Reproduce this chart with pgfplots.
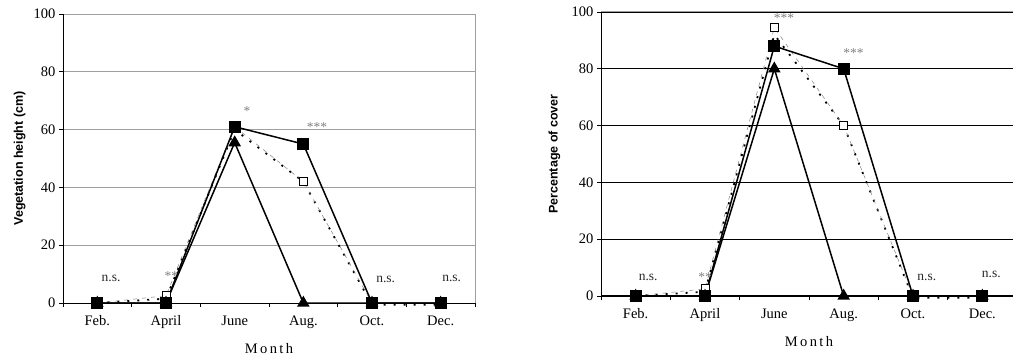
\documentclass[border=0pt]{standalone}
\usepackage{fontspec}
\setmainfont{Liberation Serif}
\newfontfamily\lblfont{Liberation Sans}
\usepackage{pgfplots}
\pgfplotsset{compat=1.18}
\tikzset{
 ann/.style={font=\fontsize{13.5}{14}\selectfont, text=black!85},
 star/.style={font=\fontsize{13.5}{14}\selectfont, text=gray},
}
\pgfplotsset{
 mychart/.style={
  scale only axis,
  clip=false,
  xmin=-0.5, xmax=5.5, ymin=0, ymax=100,
  axis x line*=bottom, axis y line*=left,
  axis line style={line width=1pt, -},
  xtick={-0.5,0.5,...,5.5}, xticklabels={},
  extra x ticks={0,1,2,3,4,5},
  extra x tick labels={Feb.,April,June,Aug.,Oct.,Dec.},
  extra x tick style={major tick length=0pt, grid=none, tick label style={yshift=-9pt}},
  ytick={0,20,...,100},
  tick align=outside, major tick length=4pt,
  tick style={black, line width=0.7pt},
  ymajorgrids,
  tick label style={font=\fontsize{14.5}{16}\selectfont},
  /pgf/number format/assume math mode=true,
  xlabel={M\,o\,n\,t\,h},
  x label style={at={(axis description cs:0.5,0)}, yshift=-46pt, anchor=center, font=\fontsize{14.5}{16}\selectfont},
  y label style={anchor=center, font=\lblfont\bfseries\fontsize{12.5}{14}\selectfont},
 },
 sqfill/.style={black, line width=1.5pt, mark=square*, mark size=5.2pt, mark options={solid, fill=black}},
 sqopen/.style={gray, line width=0.5pt, dash pattern=on 4pt off 5pt, mark=square*, mark size=4pt, mark options={solid, fill=white, draw=black, line width=1pt}},
 tri/.style={black, line width=1.5pt, mark=triangle*, mark size=5.8pt, mark options={solid, fill=black}},
 dotsl/.style={black, line width=1.8pt, dash pattern=on 2pt off 8pt, mark=none},
}
\begin{document}
\begin{tikzpicture}
\useasboundingbox (0,0) rectangle (1013pt,362pt);
% left chart
\begin{axis}[mychart, at={(63pt,59pt)}, anchor=south west, width=412pt, height=289pt,
  major grid style={gray!75, line width=0.9pt},
  y label style={at={(axis description cs:-0.105,0.5)}},
  ylabel={Vegetation height (cm)}]
\addplot[dotsl] coordinates {(0,0) (1,1.5) (2,60) (3,42) (4,-0.6) (5,-0.6)};
\addplot[sqopen] coordinates {(0,0) (1,2.5) (2,61) (3,42) (4,0) (5,0)};
\addplot[tri] coordinates {(0,0) (1,0) (2,55.5) (3,0) (4,0) (5,0)};
\addplot[sqfill] coordinates {(0,0) (1,0) (2,61) (3,55) (4,0) (5,0)};
\draw[gray!75, line width=0.9pt] (rel axis cs:1,0) -- (rel axis cs:1,1);
\node[ann] at (axis cs:0.2,8.6) {n.s.};
\node[star] at (axis cs:1.08,9.3) {**};
\node[star] at (axis cs:2.18,66.5) {*};
\node[star] at (axis cs:3.2,61) {***};
\node[ann] at (axis cs:4.2,8) {n.s.};
\node[ann] at (axis cs:5.16,8.6) {n.s.};
\end{axis}
% right chart
\begin{axis}[mychart, at={(601pt,66pt)}, anchor=south west, width=416pt, height=284pt,
  major grid style={black, line width=0.8pt},
  y label style={at={(axis description cs:-0.112,0.5)}},
  ylabel={Percentage of cover}]
\addplot[dotsl] coordinates {(0,0) (1,1.5) (2,92) (3,60) (4,-0.6) (5,-0.6)};
\addplot[sqopen] coordinates {(0,0) (1,2.5) (2,94.5) (3,60) (4,0) (5,0)};
\addplot[tri] coordinates {(0,0) (1,0) (2,80) (3,0) (4,0) (5,0)};
\addplot[sqfill] coordinates {(0,0) (1,0) (2,88) (3,80) (4,0) (5,0)};
\draw[gray!75, line width=1pt] (rel axis cs:0,1) -- (rel axis cs:1,1);
\node[ann] at (axis cs:0.18,6.7) {n.s.};
\node[star] at (axis cs:1.0,6.7) {**};
\node[star] at (axis cs:2.14,98) {***};
\node[star] at (axis cs:3.14,85.5) {***};
\node[ann] at (axis cs:4.2,6.7) {n.s.};
\node[ann] at (axis cs:5.13,7.7) {n.s.};
\end{axis}
\end{tikzpicture}
\end{document}
